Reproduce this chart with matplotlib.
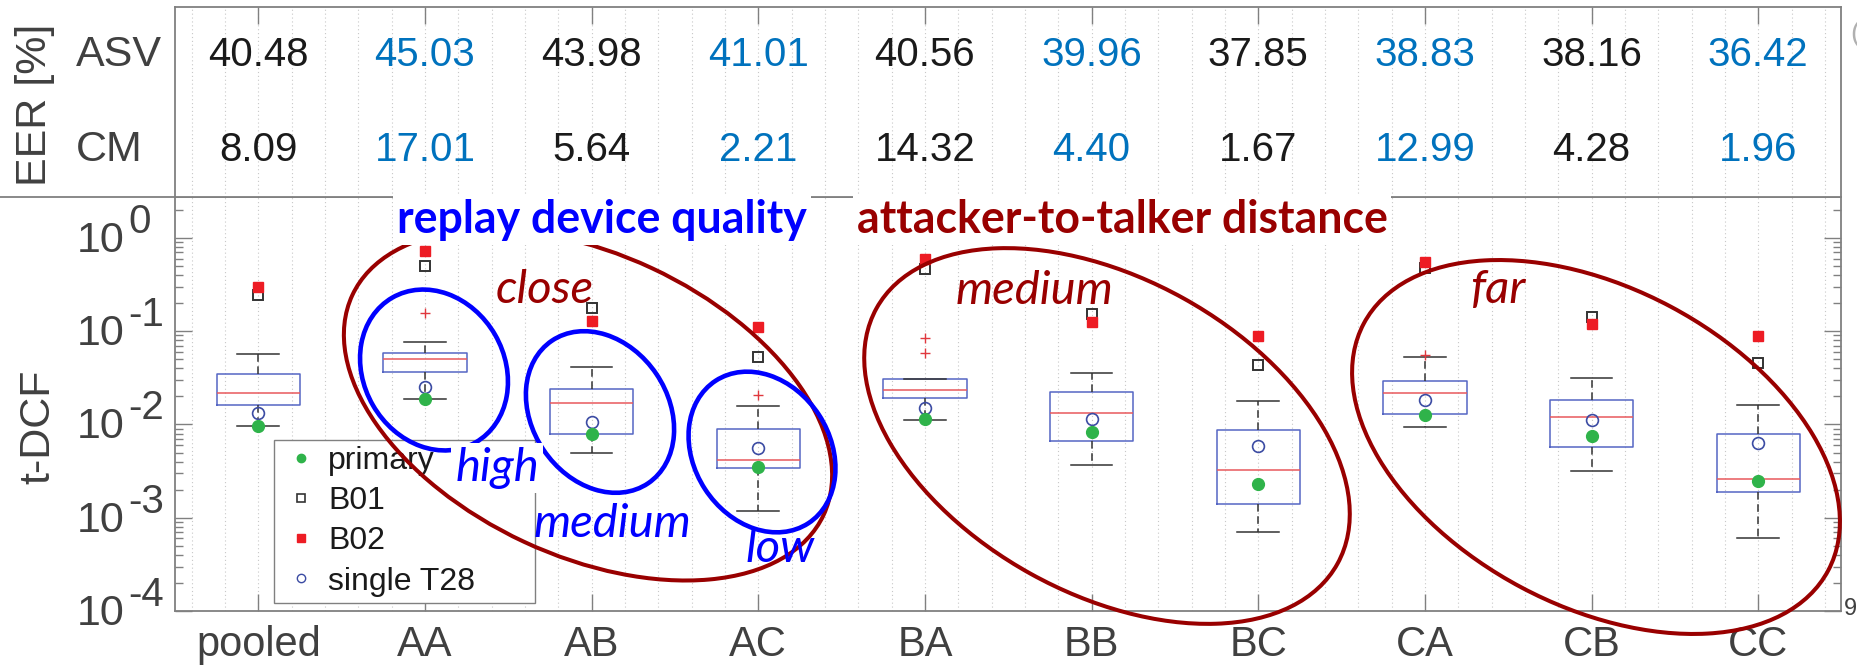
import numpy as np
import matplotlib
matplotlib.use('Agg')
import matplotlib.pyplot as plt
from matplotlib.patches import Ellipse
from matplotlib.lines import Line2D
from matplotlib.ticker import NullFormatter

plt.rcParams['font.family'] = ['Liberation Sans', 'DejaVu Sans']

# data
categories = ['pooled', 'AA', 'AB', 'AC', 'BA', 'BB', 'BC', 'CA', 'CB', 'CC']
asv_eer = [40.48, 45.03, 43.98, 41.01, 40.56, 39.96, 37.85, 38.83, 38.16, 36.42]
cm_eer = [8.09, 17.01, 5.64, 2.21, 14.32, 4.40, 1.67, 12.99, 4.28, 1.96]

# box plot statistics (t-DCF)
whislo = [0.00964, 0.0188, 0.00494, 0.00119, 0.0113, 0.00368, 0.0007, 0.0094, 0.00317, 0.0006]
q1 = [0.0161, 0.0368, 0.00785, 0.00342, 0.0191, 0.0066, 0.00139, 0.0129, 0.00578, 0.00189]
med = [0.0216, 0.050, 0.0169, 0.00413, 0.0234, 0.0132, 0.00328, 0.0216, 0.0121, 0.00262]
q3 = [0.0348, 0.0589, 0.0238, 0.00902, 0.031, 0.0221, 0.00873, 0.0295, 0.0183, 0.00797]
whishi = [0.0566, 0.0767, 0.0414, 0.0159, 0.031, 0.0354, 0.018, 0.0525, 0.0318, 0.0162]
fliers = [[], [0.158], [], [0.0207], [0.084, 0.058], [], [], [0.0556], [], []]

primary = [0.00964, 0.0188, 0.0079, 0.00348, 0.01136, 0.00838, 0.0023, 0.0126, 0.00753, 0.0025]
b01 = [0.245, 0.497, 0.176, 0.0533, 0.461, 0.153, 0.0435, 0.48, 0.143, 0.046]
b02 = [0.30, 0.726, 0.129, 0.112, 0.59, 0.126, 0.0889, 0.557, 0.12, 0.0889]
t28 = [0.0134, 0.0252, 0.0107, 0.00564, 0.0151, 0.0115, 0.00588, 0.0183, 0.0112, 0.00633]

# annotation shapes, in image pixels (x, y from top, width, height, angle)
dark_red = '#990000'
blue = '#0000ff'
ellipses = [
    (588, 405, 520, 302, 25, dark_red, 2.9),
    (1107, 436, 527, 315, 29, dark_red, 2.9),
    (1596, 447, 526, 318, 28, dark_red, 2.9),
    (434, 370, 167, 141, 60, blue, 3.3),
    (600, 412, 172, 136, 56, blue, 3.3),
    (762, 452, 170, 136, 57, blue, 3.3),
]

W, H = 1858, 667
fig = plt.figure(figsize=(W / 100, H / 100), dpi=100)


def fx(px):
    return px / W


def fy(py):
    return 1 - py / H


grey = '#808080'
txt_grey = '#404040'
pos = np.arange(1, len(categories) + 1)
gridx = np.round(np.arange(0.6, 10.41, 0.2), 1)

ax = fig.add_axes([fx(175), fy(611), fx(1841.5) - fx(175), fy(197) - fy(611)])
ax_t = fig.add_axes([fx(175), fy(197), fx(1841.5) - fx(175), fy(7) - fy(197)])

# ---- main box plot
stats = [dict(med=med[i], q1=q1[i], q3=q3[i], whislo=whislo[i], whishi=whishi[i],
              fliers=fliers[i]) for i in range(len(categories))]
ax.bxp(stats, positions=pos, widths=0.5, showfliers=True,
       boxprops=dict(color='#5566c4', lw=1.1),
       medianprops=dict(color='#e8595c', lw=1.1),
       whiskerprops=dict(color='#333333', lw=1.1, ls=(0, (5, 3))),
       capprops=dict(color='#333333', lw=1.1),
       flierprops=dict(marker='+', markeredgecolor='#e0383e', markersize=7, mew=1,
                       linestyle='none'))
ax.plot(pos, b01, 's', ms=7.5, mfc='none', mec='#333333', mew=1.4, zorder=4)
ax.plot(pos, b02, 's', ms=7.5, color='#ed1c24', zorder=5)
ax.plot(pos, t28, 'o', ms=8.5, mfc='none', mec='#3b4ba3', mew=1.2, zorder=4)
ax.plot(pos, primary, 'o', ms=8.5, color='#2fb34a', zorder=5)

ax.set_yscale('log')
ax.set_ylim(1e-4, 2.75)
ax.set_xlim(0.5, 10.5)
ax.set_xticks(pos)
ax.set_xticklabels(categories)
ax.set_xticks(gridx, minor=True)
ax.set_axisbelow(True)
ax.grid(True, which='both', axis='x', ls=(0, (1, 2.5)), color='#c8c8c8', lw=0.8)
ax.tick_params(axis='x', which='minor', length=0)
ax.tick_params(axis='x', which='major', direction='in', length=12, width=1, color=grey,
               labelsize=30, labelcolor=txt_grey, pad=10, top=False)
ax.tick_params(axis='y', which='major', direction='in', length=12, width=1, color=grey,
               left=True, right=True)
ax.tick_params(axis='y', which='minor', direction='in', length=6, width=1, color=grey,
               left=True, right=True)
ax.yaxis.set_major_formatter(NullFormatter())
ax.yaxis.set_minor_formatter(NullFormatter())
for s in ax.spines.values():
    s.set_color(grey)
    s.set_linewidth(1.3)

# y tick labels with big superscripts (matlab style)
for d in range(0, -5, -1):
    ax.annotate('10', xy=(0, 10.0 ** d), xycoords=('axes fraction', 'data'),
                xytext=(-50 * 0.72, -14 * 0.72), textcoords='offset points',
                ha='right', va='baseline', fontsize=31, color=txt_grey)
    ax.annotate(str(d), xy=(0, 10.0 ** d), xycoords=('axes fraction', 'data'),
                xytext=(-47 * 0.72, 5 * 0.72), textcoords='offset points',
                ha='left', va='baseline', fontsize=29, color=txt_grey)

handles = [Line2D([], [], marker='o', ls='none', color='#2fb34a', ms=6),
           Line2D([], [], marker='s', ls='none', mfc='none', mec='#333333', ms=5.5, mew=1.2),
           Line2D([], [], marker='s', ls='none', color='#ed1c24', ms=5.5),
           Line2D([], [], marker='o', ls='none', mfc='none', mec='#3b4ba3', ms=6, mew=1)]
leg = ax.legend(handles, ['primary', 'B01', 'B02', 'single T28'], loc='lower left',
                bbox_to_anchor=(0.0594, 0.0193, 0.1567, 0.403), mode='expand',
                borderaxespad=0, fontsize=23, fancybox=False, edgecolor=grey,
                framealpha=1, handlelength=1.3, handletextpad=0.2, borderpad=0.2,
                labelspacing=0.32)
leg.get_frame().set_linewidth(1)
for t in leg.get_texts():
    t.set_color('#1a1a1a')

fig.text(fx(38), fy(427), 't-DCF', rotation=90, ha='center', va='center',
         fontsize=31, color=txt_grey)

# ---- EER table on top
ax_t.set_xlim(0.5, 10.5)
ax_t.set_ylim(0, 1)
ax_t.set_xticks(pos)
ax_t.set_xticklabels([])
ax_t.set_xticks(gridx, minor=True)
ax_t.set_yticks([])
ax_t.grid(True, which='both', axis='x', ls=(0, (1, 2.5)), color='#c8c8c8', lw=0.8)
ax_t.tick_params(axis='x', which='major', direction='in', length=12, width=1, color=grey,
                 bottom=False, top=True, labelbottom=False)
ax_t.tick_params(axis='x', which='minor', length=0, bottom=False, top=False)
for s in ax_t.spines.values():
    s.set_color(grey)
    s.set_linewidth(1.3)
for i in range(len(categories)):
    col = '#0072bd' if i % 2 else '#1a1a1a'
    ax_t.text(pos[i], 0.771, f'{asv_eer[i]:.2f}', ha='center', va='center_baseline',
              fontsize=29, color=col)
    ax_t.text(pos[i], 0.271, f'{cm_eer[i]:.2f}', ha='center', va='center_baseline',
              fontsize=29, color=col)
ax_t.text(-0.0594, 0.771, 'ASV', transform=ax_t.transAxes, ha='left',
          va='center_baseline', fontsize=31, color=txt_grey)
ax_t.text(-0.0594, 0.271, 'CM', transform=ax_t.transAxes, ha='left',
          va='center_baseline', fontsize=31, color=txt_grey)
fig.text(fx(35), fy(105), 'EER [%]', rotation=90, ha='center', va='center',
         fontsize=31, color=txt_grey)

# ---- overlay for hand-drawn callouts (pixel coordinates)
ov = fig.add_axes([0, 0, 1, 1])
ov.set_xlim(0, W)
ov.set_ylim(H, 0)
ov.axis('off')
ov.plot([0, 175], [197, 197], color=grey, lw=1.3)
for cx, cy, w, h, ang, col, lw in ellipses:
    ov.add_patch(Ellipse((cx, cy), w, h, angle=ang, fill=False, ec=col, lw=lw, zorder=3))

renderer = fig.canvas.get_renderer()


def fit_fontsize(s, target_w, **kw):
    t = fig.text(0, 0, s, fontsize=20, **kw)
    w = t.get_window_extent(renderer).width
    t.remove()
    return 20 * target_w / w


ann_font = ['Lato', 'DejaVu Sans']
fs_bold = fit_fontsize('replay device quality', 410, family=ann_font, weight='bold')
fs_ital = fit_fontsize('medium', 158, family=ann_font, style='italic')
white = dict(facecolor='white', edgecolor='none', pad=3)

ov.text(602, 233, 'replay device quality', ha='center', va='baseline', fontsize=fs_bold,
        family=ann_font, weight='bold', color=blue, bbox=white, zorder=6)
ov.text(1122, 233, 'attacker-to-talker distance', ha='center', va='baseline',
        fontsize=fs_bold, family=ann_font, weight='bold', color=dark_red, bbox=white,
        zorder=6)
labels = [('close', 545, 303, dark_red, None), ('medium', 1034, 304, dark_red, None),
          ('far', 1498, 303, dark_red, None), ('high', 497, 481, blue, white),
          ('medium', 612, 537, blue, None), ('low', 780, 562, blue, None)]
for s, x, y, col, bb in labels:
    ov.text(x, y, s, ha='center', va='baseline', fontsize=fs_ital, family=ann_font,
            style='italic', color=col, bbox=bb, zorder=6)

# bits cut off at the right edge of the original
fig.text(fx(1844), fy(609), '9', ha='left', va='center', fontsize=17, color=txt_grey)
fig.text(fx(1850), fy(34), '(', ha='left', va='center', fontsize=20, color='#b0b0b0')

fig.savefig('out.png', dpi=100)
